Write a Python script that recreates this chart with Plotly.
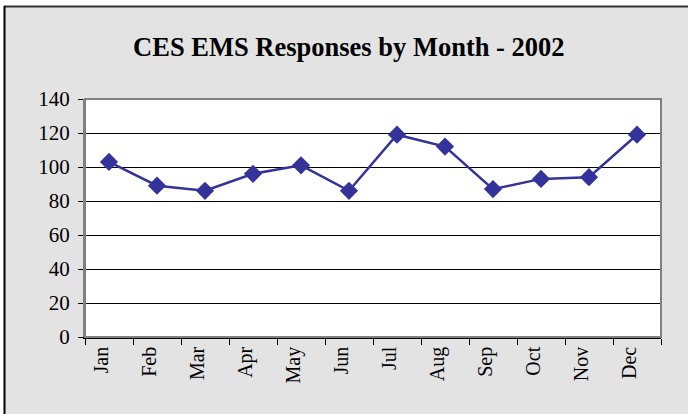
import plotly.graph_objects as go

months = ['Jan', 'Feb', 'Mar', 'Apr', 'May', 'Jun', 'Jul', 'Aug', 'Sep', 'Oct', 'Nov', 'Dec']
responses = [103, 89, 86, 96, 101, 86, 119, 112, 87, 93, 94, 119]
y_ticks = [0, 20, 40, 60, 80, 100, 120, 140]

W, H = 688, 414
L, R, T, B = 85, 27, 99, 77
pw, ph = W - L - R, H - T - B


# pixel -> paper coordinates (for the frame decorations)
def px(x):
    return (x - L) / pw


def py(y):
    return (H - B - y) / ph


fig = go.Figure()
fig.add_trace(go.Scatter(
    x=months, y=responses, mode='lines+markers',
    line=dict(color='#333399', width=2.5),
    marker=dict(symbol='diamond', size=14, color='#333399'),
    showlegend=False,
))

serif = 'Liberation Serif'

fig.update_layout(
    width=W, height=H,
    margin=dict(l=L, r=R, t=T, b=B),
    paper_bgcolor='#e3e3e3',
    plot_bgcolor='white',
    font=dict(family=serif, color='black'),
    title=dict(text='<b>CES EMS Responses by Month - 2002</b>',
               x=0.507, xanchor='center', y=1 - 47 / H, yanchor='middle',
               yref='container', font=dict(size=26.5, family=serif)),
    shapes=[
        # white strips outside the chart frame
        dict(type='rect', xref='paper', yref='paper', x0=px(0), x1=px(W), y0=py(6), y1=py(0),
             fillcolor='white', line=dict(width=0), layer='below'),
        dict(type='rect', xref='paper', yref='paper', x0=px(0), x1=px(4), y0=py(H), y1=py(0),
             fillcolor='white', line=dict(width=0), layer='below'),
        # frame lines
        dict(type='line', xref='paper', yref='paper', x0=px(4), x1=px(W), y0=py(6.5), y1=py(6.5),
             line=dict(color='#333333', width=2)),
        dict(type='line', xref='paper', yref='paper', x0=px(4.5), x1=px(4.5), y0=py(6), y1=py(H),
             line=dict(color='black', width=2)),
        # plot area border
        dict(type='rect', xref='paper', yref='paper', x0=0, x1=1, y0=0, y1=1,
             line=dict(color='#808080', width=2)),
    ],
)

fig.update_xaxes(
    range=[-0.5, len(months) - 0.5],
    showgrid=False, tickangle=-90, tickson='boundaries',
    ticks='outside', ticklen=6, tickcolor='black',
    showline=True, linecolor='black', linewidth=1.5,
    tickfont=dict(size=20), zeroline=False, ticklabelshift=-8,
)
fig.update_yaxes(
    range=[0, 140], tickvals=y_ticks,
    showgrid=True, gridcolor='black', gridwidth=1,
    ticks='outside', ticklen=5, tickcolor='black',
    showline=True, linecolor='#808080', linewidth=2,
    tickfont=dict(size=21), zeroline=False, ticklabelstandoff=4,
)

fig.write_html('out.html', config=dict(displayModeBar=False),
               post_script="document.body.style.margin='0px';")
